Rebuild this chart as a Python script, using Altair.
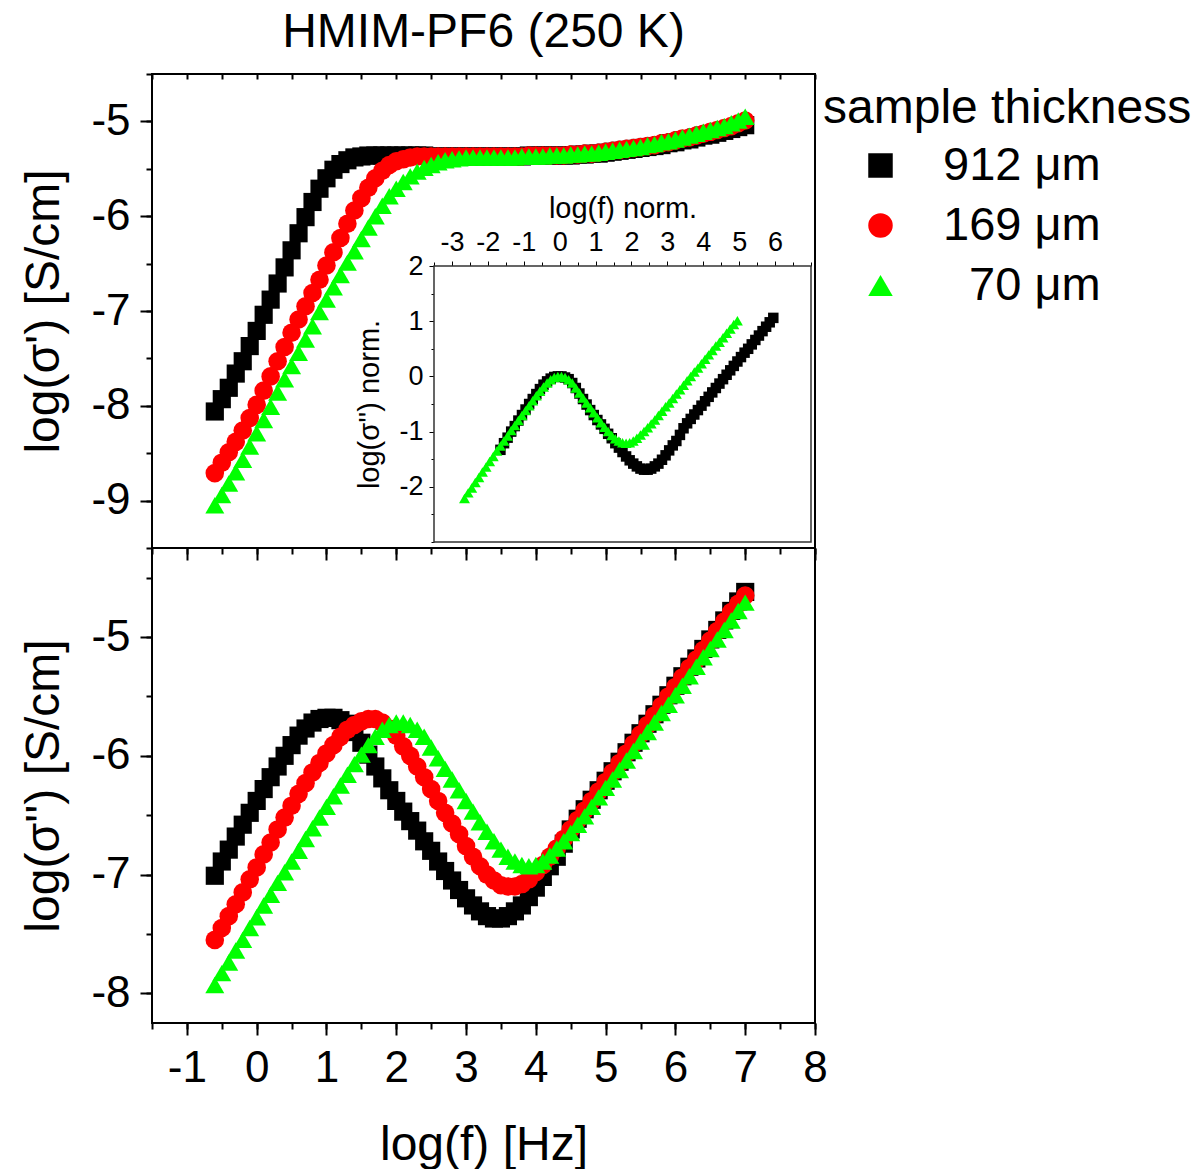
import altair as alt
import pandas as pd

FONT = "Liberation Sans"

# log10 of frequency [Hz]
LOGF = [-0.6, -0.5, -0.4, -0.3, -0.2, -0.1, 0.0, 0.1, 0.2, 0.3,
        0.4, 0.5, 0.6, 0.7, 0.8, 0.9, 1.0, 1.1, 1.2, 1.3,
        1.4, 1.5, 1.6, 1.7, 1.8, 1.9, 2.0, 2.1, 2.2, 2.3,
        2.4, 2.5, 2.6, 2.7, 2.8, 2.9, 3.0, 3.1, 3.2, 3.3,
        3.4, 3.5, 3.6, 3.7, 3.8, 3.9, 4.0, 4.1, 4.2, 4.3,
        4.4, 4.5, 4.6, 4.7, 4.8, 4.9, 5.0, 5.1, 5.2, 5.3,
        5.4, 5.5, 5.6, 5.7, 5.8, 5.9, 6.0, 6.1, 6.2, 6.3,
        6.4, 6.5, 6.6, 6.7, 6.8, 6.9, 7.0]

THICKNESS = ["912 μm", "169 μm", "70 μm"]
COLORS = ["#000000", "#ff0000", "#00ff00"]
SHAPES = ["square", "circle", "triangle-up"]

# log(sigma') [S/cm]
SIG1_912 = [-8.06, -7.93, -7.81, -7.66, -7.53, -7.37, -7.21, -7.04, -6.88, -6.71,
            -6.54, -6.36, -6.18, -6.01, -5.85, -5.71, -5.60, -5.51, -5.45, -5.41,
            -5.38, -5.37, -5.36, -5.36, -5.36, -5.36, -5.36, -5.36, -5.36, -5.36,
            -5.36, -5.37, -5.37, -5.37, -5.37, -5.37, -5.37, -5.37, -5.37, -5.37,
            -5.37, -5.37, -5.37, -5.37, -5.37, -5.36, -5.36, -5.36, -5.36, -5.36,
            -5.36, -5.36, -5.35, -5.35, -5.34, -5.34, -5.33, -5.32, -5.31, -5.30,
            -5.29, -5.28, -5.27, -5.26, -5.25, -5.23, -5.22, -5.20, -5.19, -5.17,
            -5.15, -5.14, -5.12, -5.10, -5.08, -5.06, -5.04]
SIG1_169 = [-8.71, -8.60, -8.49, -8.38, -8.26, -8.13, -7.99, -7.84, -7.69, -7.53,
            -7.38, -7.23, -7.09, -6.95, -6.81, -6.67, -6.52, -6.38, -6.23, -6.08,
            -5.94, -5.81, -5.70, -5.60, -5.52, -5.46, -5.42, -5.40, -5.38, -5.37,
            -5.37, -5.37, -5.37, -5.37, -5.37, -5.37, -5.37, -5.37, -5.37, -5.37,
            -5.37, -5.37, -5.37, -5.37, -5.37, -5.36, -5.36, -5.36, -5.36, -5.36,
            -5.36, -5.35, -5.35, -5.34, -5.34, -5.33, -5.32, -5.31, -5.30, -5.29,
            -5.28, -5.27, -5.26, -5.25, -5.23, -5.22, -5.20, -5.18, -5.17, -5.15,
            -5.13, -5.11, -5.09, -5.07, -5.05, -5.02, -4.99]
SIG1_70 = [-9.05, -8.94, -8.82, -8.70, -8.57, -8.43, -8.29, -8.15, -8.01, -7.86,
           -7.72, -7.58, -7.44, -7.30, -7.16, -7.01, -6.88, -6.75, -6.62, -6.49,
           -6.37, -6.24, -6.12, -6.00, -5.89, -5.79, -5.71, -5.64, -5.58, -5.53,
           -5.49, -5.46, -5.43, -5.41, -5.40, -5.39, -5.38, -5.38, -5.38, -5.38,
           -5.38, -5.38, -5.38, -5.38, -5.37, -5.37, -5.37, -5.37, -5.36, -5.36,
           -5.36, -5.35, -5.35, -5.34, -5.34, -5.33, -5.32, -5.31, -5.30, -5.29,
           -5.28, -5.27, -5.25, -5.24, -5.22, -5.21, -5.19, -5.17, -5.15, -5.13,
           -5.11, -5.09, -5.07, -5.05, -5.02, -4.99, -4.95]

# log(sigma'') [S/cm]
SIG2_912 = [-7.01, -6.89, -6.79, -6.68, -6.58, -6.48, -6.38, -6.28, -6.18, -6.09,
            -6.00, -5.91, -5.83, -5.77, -5.72, -5.69, -5.68, -5.68, -5.70, -5.73,
            -5.80, -5.89, -5.99, -6.09, -6.19, -6.29, -6.38, -6.47, -6.55, -6.63,
            -6.72, -6.80, -6.89, -6.97, -7.05, -7.13, -7.20, -7.26, -7.31, -7.35,
            -7.37, -7.37, -7.35, -7.31, -7.26, -7.19, -7.11, -7.02, -6.93, -6.85,
            -6.74, -6.62, -6.53, -6.45, -6.37, -6.29, -6.21, -6.13, -6.05, -5.97,
            -5.89, -5.81, -5.73, -5.65, -5.57, -5.49, -5.41, -5.33, -5.25, -5.18,
            -5.10, -5.02, -4.94, -4.86, -4.78, -4.70, -4.62]
SIG2_169 = [-7.55, -7.45, -7.35, -7.25, -7.15, -7.04, -6.94, -6.83, -6.73, -6.62,
            -6.52, -6.42, -6.32, -6.23, -6.14, -6.06, -5.98, -5.91, -5.84, -5.78,
            -5.74, -5.71, -5.69, -5.69, -5.72, -5.77, -5.83, -5.92, -6.00, -6.09,
            -6.18, -6.28, -6.38, -6.48, -6.57, -6.66, -6.76, -6.85, -6.93, -7.00,
            -7.05, -7.09, -7.10, -7.10, -7.08, -7.04, -6.98, -6.92, -6.85, -6.78,
            -6.70, -6.62, -6.54, -6.46, -6.38, -6.30, -6.22, -6.14, -6.06, -5.98,
            -5.90, -5.82, -5.74, -5.66, -5.58, -5.50, -5.42, -5.34, -5.26, -5.19,
            -5.11, -5.03, -4.95, -4.87, -4.79, -4.72, -4.65]
SIG2_70 = [-7.93, -7.83, -7.74, -7.64, -7.55, -7.45, -7.36, -7.26, -7.17, -7.07,
           -6.98, -6.89, -6.80, -6.70, -6.61, -6.52, -6.43, -6.34, -6.25, -6.16,
           -6.07, -5.99, -5.91, -5.84, -5.78, -5.74, -5.72, -5.72, -5.74, -5.78,
           -5.84, -5.93, -6.02, -6.11, -6.20, -6.29, -6.38, -6.47, -6.56, -6.64,
           -6.72, -6.79, -6.85, -6.89, -6.92, -6.93, -6.92, -6.89, -6.84, -6.78,
           -6.72, -6.65, -6.58, -6.51, -6.43, -6.35, -6.27, -6.20, -6.12, -6.04,
           -5.96, -5.88, -5.80, -5.72, -5.64, -5.57, -5.49, -5.41, -5.33, -5.25,
           -5.17, -5.10, -5.02, -4.94, -4.86, -4.78, -4.71]

# sigma'' peak position (log f, log sigma'') used for the normalised inset
PEAK_912 = (1.05, -5.68)
PEAK_70 = (2.05, -5.72)

# axis limits
X_DOMAIN = [-1.5, 8]
Y1_DOMAIN = [-9.5, -4.5]
Y2_DOMAIN = [-8.25, -4.25]
XI_DOMAIN = [-3.5, 7]
YI_DOMAIN = [-3, 2]


def frame_rows(series_list, key):
    rows = []
    for name, vals in series_list:
        for f, v in zip(LOGF, vals):
            rows.append({"logf": f, key: v, "thickness": name})
    return pd.DataFrame(rows)


df1 = frame_rows(list(zip(THICKNESS, [SIG1_912, SIG1_169, SIG1_70])), "sig")
df2 = frame_rows(list(zip(THICKNESS, [SIG2_912, SIG2_169, SIG2_70])), "sig")

inset_rows = []
for name, vals, (pf, ps) in [(THICKNESS[0], SIG2_912, PEAK_912), (THICKNESS[2], SIG2_70, PEAK_70)]:
    for f, v in zip(LOGF, vals):
        inset_rows.append({"fn": round(f - pf, 3), "sn": round(v - ps, 3), "thickness": name})
dfi = pd.DataFrame(inset_rows)
dff = pd.DataFrame([{"x0": XI_DOMAIN[0], "x1": XI_DOMAIN[1], "y0": YI_DOMAIN[0], "y1": YI_DOMAIN[1]}])

W = 663
H1 = 474
H2 = 475
LBL = "toString(datum.value)"


def steps(a, b, s):
    out = []
    v = a
    while v <= b + 1e-9:
        out.append(round(v, 3))
        v += s
    return out


# a zero-width (non-trimmed) character keeps the two no-break spaces so that the
# two-digit label lines up under the three-digit ones, as in the original
legend = alt.Legend(
    title="sample thickness", orient="none", legendX=671, legendY=11,
    titleFontSize=48, titleFont=FONT, titleFontWeight="normal", titleColor="black",
    titleLimit=600, titlePadding=9,
    labelFontSize=47, labelFont=FONT, labelColor="black", labelLimit=600,
    symbolOffset=34, labelOffset=39, rowPadding=12, symbolSize=600, symbolStrokeWidth=0,
    labelExpr="indexof(datum.label, '70') == 0 ? '\u200b\u00a0\u00a0' + datum.label : datum.label",
    padding=0,
)
color = alt.Color("thickness:N", scale=alt.Scale(domain=THICKNESS, range=COLORS), legend=legend)
shape = alt.Shape("thickness:N", scale=alt.Scale(domain=THICKNESS, range=SHAPES), legend=legend)
size = alt.Size("thickness:N", scale=alt.Scale(domain=THICKNESS, range=[330, 360, 520]), legend=None)
size_inset = alt.Size("thickness:N", scale=alt.Scale(domain=THICKNESS, range=[110, 120, 170]), legend=None)

xs = alt.Scale(domain=X_DOMAIN, nice=False, zero=False)


def panel(df, ydomain, ytitle, major_y, show_x_labels):
    ys = alt.Scale(domain=ydomain, nice=False, zero=False)
    if show_x_labels:
        xaxis = alt.Axis(orient="bottom", values=list(range(-1, 9)), tickSize=12,
                         labelFontSize=44, labelPadding=11, labelExpr=LBL,
                         title="log(f) [Hz]", titleFontSize=48, titlePadding=31)
    else:
        xaxis = alt.Axis(orient="bottom", values=list(range(-1, 9)), tickSize=12,
                         labels=False, title=None)
    pts = alt.Chart(df).mark_point(filled=True, opacity=1, strokeWidth=0).encode(
        x=alt.X("logf:Q", scale=xs, axis=xaxis),
        y=alt.Y("sig:Q", scale=ys, axis=alt.Axis(
            orient="left", values=major_y, tickSize=12, labelFontSize=44, labelExpr=LBL,
            labelPadding=10, title=ytitle, titleFontSize=48, titlePadding=22)),
        color=color, shape=shape, size=size,
    )
    start = ydomain[0] if ydomain[0] % 0.5 == 0 else ydomain[0] + 0.25
    minor = alt.Chart(df).mark_point(opacity=0).encode(
        x=alt.X("logf:Q", scale=xs, axis=alt.Axis(
            orient="bottom", values=steps(-1.5, 8, 0.5), tickSize=6, labels=False, title=None)),
        y=alt.Y("sig:Q", scale=ys, axis=alt.Axis(
            orient="left", values=steps(start, ydomain[1], 0.5),
            tickSize=6, labels=False, title=None)),
    )
    return [pts, minor], ys


# ---------- top panel ----------
top_layers, ys1 = panel(df1, Y1_DOMAIN, "log(σ') [S/cm]", [-9, -8, -7, -6, -5], False)
top_ticks = alt.Chart(df1).mark_point(opacity=0).encode(
    x=alt.X("logf:Q", scale=xs, axis=alt.Axis(
        orient="top", values=steps(-1.5, 8, 0.5), tickSize=5, offset=-5, labels=False, title=None)),
    y=alt.Y("sig:Q", scale=ys1, axis=None),
)
main_top = alt.layer(*top_layers, top_ticks).resolve_axis(x="independent", y="independent")

# inset
XI_RANGE = [282, 659]
YI_RANGE = [468, 192]
xi = alt.Scale(domain=XI_DOMAIN, range=XI_RANGE, nice=False, zero=False)
yi = alt.Scale(domain=YI_DOMAIN, range=YI_RANGE, nice=False, zero=False)

inset_frame = alt.Chart(dff).mark_rect(fill="white", stroke="#333333", strokeWidth=1.5).encode(
    x=alt.X("x0:Q", scale=xi, axis=alt.Axis(
        orient="top", offset=-192, values=list(range(-3, 7)), tickSize=5, tickWidth=1,
        labelFontSize=27, labelPadding=5, labelExpr=LBL,
        title="log(f) norm.", titleFontSize=29, titlePadding=5)),
    x2="x1:Q",
    y=alt.Y("y0:Q", scale=yi, axis=alt.Axis(
        orient="left", offset=-282, values=[-2, -1, 0, 1, 2], tickSize=5, tickWidth=1,
        labelFontSize=27, labelPadding=6, labelExpr=LBL,
        title="log(σ'') norm.", titleFontSize=29, titlePadding=14)),
    y2="y1:Q",
)
inset_minor = alt.Chart(dff).mark_rect(opacity=0).encode(
    x=alt.X("x0:Q", scale=xi, axis=alt.Axis(
        orient="top", offset=-192, values=steps(-3.5, 7, 0.5), tickSize=4, tickWidth=1,
        labels=False, title=None)),
    x2="x1:Q",
    y=alt.Y("y0:Q", scale=yi, axis=alt.Axis(
        orient="left", offset=-282, values=steps(-3, 2, 0.5), tickSize=3, tickWidth=1,
        labels=False, title=None)),
    y2="y1:Q",
)
inset_pts = alt.Chart(dfi).mark_point(filled=True, opacity=1, strokeWidth=0).encode(
    x=alt.X("fn:Q", scale=xi, axis=None),
    y=alt.Y("sn:Q", scale=yi, axis=None),
    color=color, shape=shape, size=size_inset,
)
inset = alt.layer(inset_frame, inset_minor, inset_pts).resolve_axis(x="independent", y="independent")

top = alt.layer(main_top, inset).resolve_scale(
    x="independent", y="independent", size="independent"
).properties(
    width=W, height=H1,
    title=alt.Title("HMIM-PF6 (250 K)", fontSize=48, font=FONT, fontWeight="normal",
                    color="black", anchor="middle", frame="group", offset=16),
)

# ---------- bottom panel ----------
bot_layers, ys2 = panel(df2, Y2_DOMAIN, "log(σ'') [S/cm]", [-8, -7, -6, -5], True)
bottom = alt.layer(*bot_layers).resolve_axis(x="independent", y="independent").properties(
    width=W, height=H2)

chart = alt.vconcat(top, bottom, spacing=0, bounds="flush").resolve_scale(
    size="independent"
).properties(
    padding={"left": 19, "top": 8, "right": 5, "bottom": 5}
).configure_view(
    stroke="black", strokeWidth=2
).configure_axis(
    grid=False, domain=False, tickColor="black", tickWidth=2,
    labelColor="black", titleColor="black", labelFont=FONT, titleFont=FONT,
    titleFontWeight="normal", labelFlush=False, labelOverlap=False, labelBound=False,
)

chart.save("out.html", embed_options={"renderer": "svg", "actions": False})
